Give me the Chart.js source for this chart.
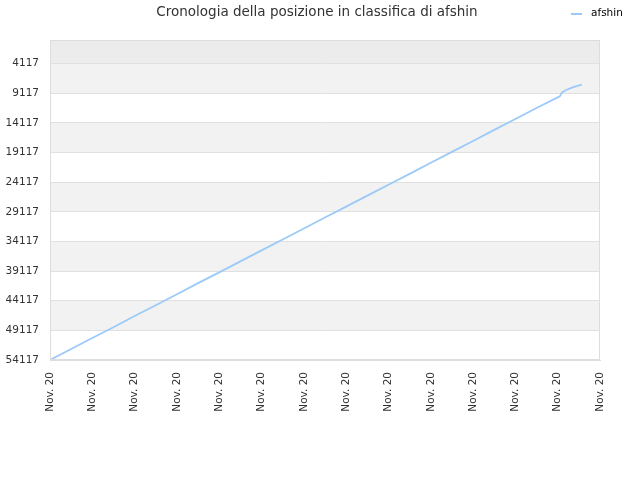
<!DOCTYPE html>
<html>
<head>
<meta charset="utf-8">
<script src="https://cdn.jsdelivr.net/npm/chart.js@4"></script>
<style>
  html, body { margin: 0; padding: 0; background: #fff; }
  #wrap { width: 640px; height: 480px; }
</style>
</head>
<body>
<div id="wrap"><canvas id="chart" width="640" height="480"></canvas></div>
<script>
const chartTitle = 'Cronologia della posizione in classifica di afshin';
const seriesName = 'afshin';

// tick labels along the bottom, one per tick
const xLabels = ['Nov. 20', 'Nov. 20', 'Nov. 20', 'Nov. 20', 'Nov. 20', 'Nov. 20', 'Nov. 20',
  'Nov. 20', 'Nov. 20', 'Nov. 20', 'Nov. 20', 'Nov. 20', 'Nov. 20', 'Nov. 20'];
const yTicks = [4117, 9117, 14117, 19117, 24117, 29117, 34117, 39117, 44117, 49117, 54117];
const yMin = 117;
const yMax = 54117;

// position along the time axis (in tick units) and rank
const days = [0, 0.5, 1, 1.5, 2, 2.5, 3, 3.5, 4, 4.5, 5, 5.5, 6, 6.5, 7, 7.5, 8, 8.5,
  9, 9.5, 10, 10.5, 11, 11.5, 12, 12.05, 12.1, 12.2, 12.35, 12.57];
const ranks = [54117, 52270, 50400, 48580, 46700, 44880, 43020, 41150, 39330, 37470,
  35620, 33790, 31930, 30070, 28240, 26380, 24540, 22700, 20830, 18990,
  17150, 15290, 13450, 11600, 9800, 9620, 8980, 8550, 8100, 7630];

const lineColor = '#9ccaf8';
const font = '"DejaVu Sans", sans-serif';

const decor = {
  id: 'decor',
  beforeDraw(chart) {
    const { ctx, chartArea: a, scales: { y } } = chart;
    ctx.save();
    // zone above the first tick
    ctx.fillStyle = '#ececec';
    ctx.fillRect(a.left, a.top, a.right - a.left, y.getPixelForValue(yTicks[0]) - a.top);
    for (let i = 0; i < yTicks.length - 1; i++) {
      ctx.fillStyle = i % 2 === 0 ? '#f2f2f2' : '#ffffff';
      const t = y.getPixelForValue(yTicks[i]);
      const b = y.getPixelForValue(yTicks[i + 1]);
      ctx.fillRect(a.left, t, a.right - a.left, b - t);
    }
    ctx.restore();
  },
  afterDraw(chart) {
    const { ctx, chartArea: a } = chart;
    ctx.save();
    ctx.strokeStyle = '#dddddd';
    ctx.lineWidth = 1;
    ctx.strokeRect(a.left + 0.5, a.top + 0.5, a.right - a.left - 1, a.bottom - a.top - 1);

    ctx.font = '13.5px ' + font;
    ctx.fillStyle = '#333';
    ctx.textAlign = 'center';
    ctx.textBaseline = 'middle';
    ctx.fillText(chartTitle, 317, 12);

    // legend
    ctx.strokeStyle = lineColor;
    ctx.lineWidth = 2;
    ctx.beginPath();
    ctx.moveTo(571, 14);
    ctx.lineTo(582, 14);
    ctx.stroke();
    ctx.font = '10.5px ' + font;
    ctx.fillStyle = '#000';
    ctx.textAlign = 'left';
    ctx.fillText(seriesName, 591, 13);
    ctx.restore();
  }
};

const ctx = document.getElementById('chart').getContext('2d');
new Chart(ctx, {
  type: 'line',
  data: {
    datasets: [{
      label: seriesName,
      data: days.map((d, i) => ({ x: d, y: ranks[i] })),
      borderColor: lineColor,
      backgroundColor: lineColor,
      borderWidth: 1.8,
      pointRadius: 0,
      tension: 0,
      fill: false
    }]
  },
  options: {
    responsive: false,
    animation: false,
    layout: { padding: { left: 0, right: 40, top: 40, bottom: 0 } },
    plugins: {
      title: { display: false },
      tooltip: { enabled: false },
      legend: { display: false }
    },
    scales: {
      x: {
        type: 'linear',
        min: 0,
        max: xLabels.length - 1,
        afterBuildTicks(axis) {
          axis.ticks = xLabels.map((l, i) => ({ value: i }));
        },
        afterFit(axis) { axis.height = 120; },
        ticks: {
          autoSkip: false,
          minRotation: 90,
          maxRotation: 90,
          padding: 12,
          color: '#333',
          font: { size: 10.5, family: font },
          callback: (v, i) => xLabels[i]
        },
        grid: { display: false, drawTicks: false },
        border: { display: true, color: '#dddddd' }
      },
      y: {
        type: 'linear',
        reverse: true,
        min: yMin,
        max: yMax,
        afterBuildTicks(axis) {
          axis.ticks = yTicks.map(v => ({ value: v }));
        },
        afterFit(axis) { axis.width = 50; },
        ticks: {
          padding: 11,
          color: '#333',
          font: { size: 10.5, family: font },
          callback: v => String(v)
        },
        grid: { color: '#e0e0e0', drawTicks: false },
        border: { display: true, color: '#dddddd' }
      }
    }
  },
  plugins: [decor]
});
</script>
</body>
</html>
